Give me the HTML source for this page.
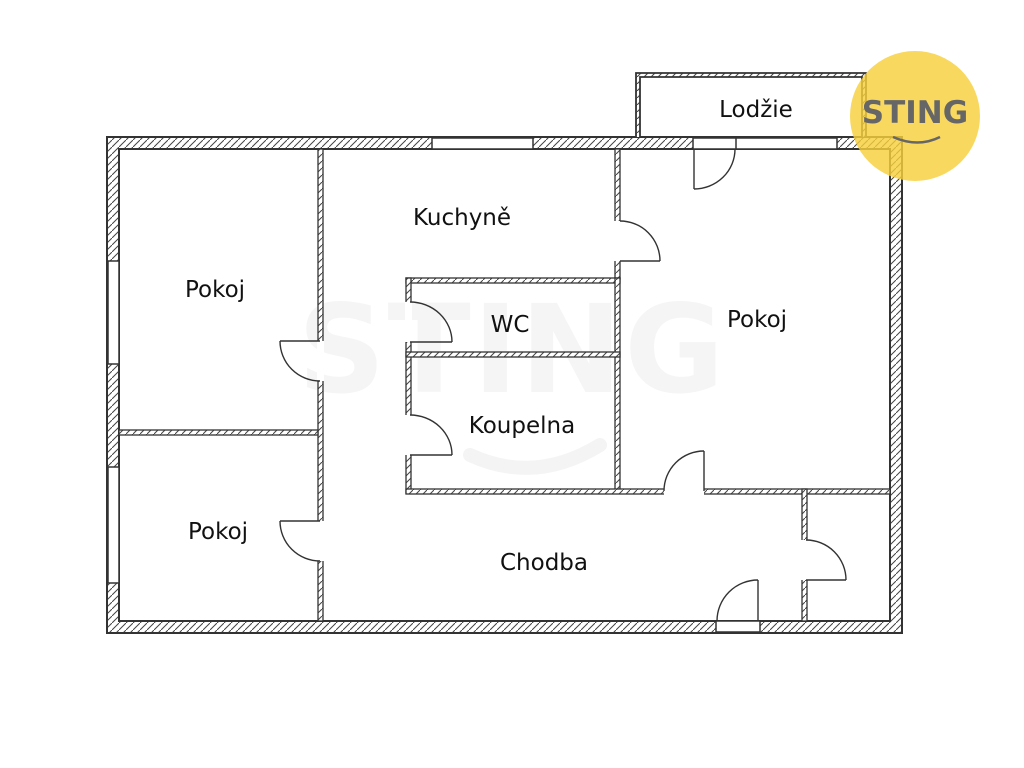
<!DOCTYPE html>
<html><head><meta charset="utf-8"><style>
html,body{margin:0;padding:0;background:#fff;width:1024px;height:768px;overflow:hidden}
text{font-family:"DejaVu Sans","Liberation Sans",sans-serif}
</style></head><body>
<svg width="1024" height="768" viewBox="0 0 1024 768" xmlns="http://www.w3.org/2000/svg">
<defs>
<pattern id="h" patternUnits="userSpaceOnUse" width="7" height="7">
<rect width="7" height="7" fill="#fff"/>
<path d="M-1,8 L8,-1" stroke="#444" stroke-width="1"/>
</pattern>
</defs>
<!-- watermark -->
<text x="512" y="392" text-anchor="middle" font-size="122" font-weight="bold" fill="#f5f5f5" letter-spacing="2" font-family="Liberation Sans">STING</text>
<path d="M470,455 Q535,485 600,445" stroke="#f4f4f4" stroke-width="14" fill="none" stroke-linecap="round"/>

<!-- outer walls -->
<path d="M107,137 H902 V633 H107 Z M119,149 V621 H890 V149 Z" fill="url(#h)" fill-rule="evenodd" stroke="#333" stroke-width="2"/>
<g fill="#fff" stroke="#333" stroke-width="1.5">
<rect x="432" y="138" width="101" height="11"/>
<rect x="693" y="138" width="144" height="11"/>
<line x1="736" y1="138" x2="736" y2="149"/>
<rect x="108" y="261" width="11" height="103"/>
<rect x="108" y="467" width="11" height="116"/>
<rect x="716" y="621" width="44" height="11"/>
</g>

<g fill="url(#h)" stroke="#333" stroke-width="1.3">
<rect x="318" y="149" width="5" height="472"/>
<rect x="119" y="430" width="199" height="5"/>
<rect x="615" y="149" width="5" height="130"/>
<rect x="406" y="278" width="214" height="5"/>
<rect x="406" y="278" width="5" height="215"/>
<rect x="615" y="278" width="5" height="215"/>
<rect x="406" y="352" width="214" height="5"/>
<rect x="406" y="489" width="484" height="5"/>
<rect x="802" y="489" width="5" height="132"/>
</g>
<g fill="#fff" stroke="none">
<rect x="317" y="341" width="7" height="40"/>
<rect x="317" y="521" width="7" height="40"/>
<rect x="405" y="302" width="7" height="40"/>
<rect x="405" y="415" width="7" height="40"/>
<rect x="614" y="221" width="7" height="40"/>
<rect x="664" y="488" width="40" height="7"/>
<rect x="801" y="540" width="7" height="40"/>
</g>
<g fill="none" stroke="#333" stroke-width="1.4">
<line x1="280" y1="341" x2="320" y2="341"/><path d="M280,341 A40,40 0 0 0 320,381"/>
<line x1="280" y1="521" x2="320" y2="521"/><path d="M280,521 A40,40 0 0 0 320,561"/>
<line x1="410" y1="342" x2="452" y2="342"/><path d="M410,302 A42,40 0 0 1 452,342"/>
<line x1="410" y1="455" x2="452" y2="455"/><path d="M410,415 A42,40 0 0 1 452,455"/>
<line x1="620" y1="261" x2="660" y2="261"/><path d="M620,221 A40,40 0 0 1 660,261"/>
<line x1="704" y1="451" x2="704" y2="491"/><path d="M704,451 A40,40 0 0 0 664,491"/>
<line x1="694" y1="149" x2="694" y2="189"/><path d="M694,189 A41,40 0 0 0 735,149"/>
<line x1="758" y1="580" x2="758" y2="621"/><path d="M758,580 A41,41 0 0 0 717,621"/>
<line x1="806" y1="580" x2="846" y2="580"/><path d="M806,540 A40,40 0 0 1 846,580"/>
</g>

<!-- Lodzie -->
<rect x="636" y="73" width="230" height="4" fill="url(#h)"/>
<rect x="636" y="73" width="4" height="64" fill="url(#h)"/>
<rect x="862" y="73" width="4" height="64" fill="url(#h)"/>
<path d="M636,137 V73 H866 V137 M640,137 V77 H862 V137" fill="none" stroke="#333" stroke-width="1.8"/>

<g font-size="23" fill="#111" text-anchor="middle">
<text x="756" y="117">Lodžie</text>
<text x="462" y="225">Kuchyně</text>
<text x="215" y="297">Pokoj</text>
<text x="510" y="332">WC</text>
<text x="757" y="327">Pokoj</text>
<text x="522" y="433">Koupelna</text>
<text x="218" y="539">Pokoj</text>
<text x="544" y="570">Chodba</text>
</g>

<circle cx="915" cy="116" r="65" fill="#f7cf3a" opacity="0.82"/>
<text x="915" y="123" text-anchor="middle" font-size="31" font-weight="bold" fill="#666" font-family="Liberation Sans">STING</text>
<path d="M893,137 Q918,148 940,137" stroke="#666" stroke-width="2.5" fill="none"/>
</svg>
</body></html>
